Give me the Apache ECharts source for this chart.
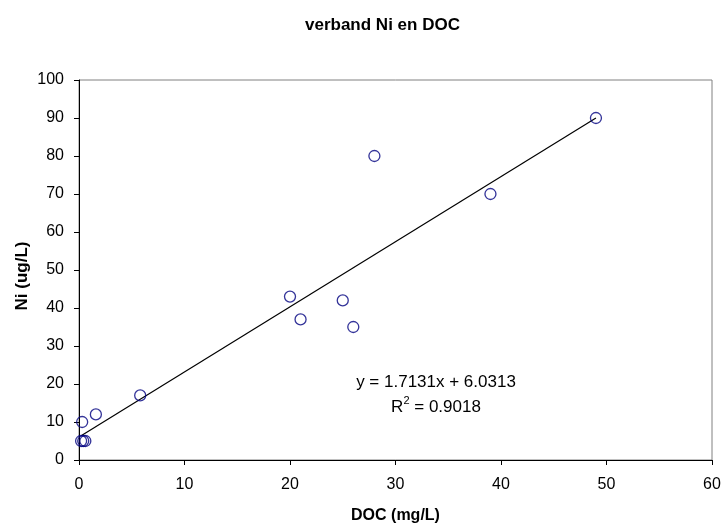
<!DOCTYPE html>
<html>
<head>
<meta charset="utf-8">
<script src="https://cdn.jsdelivr.net/npm/echarts@6/dist/echarts.min.js"></script>
<style>html,body{margin:0;padding:0;background:#fff}#c{width:722px;height:527px}</style>
</head>
<body>
<div id="c"></div>
<script>
var docValues = [49, 39, 28, 20, 21, 25, 26, 5.8, 1.6, 0.3, 0.2, 0.4, 0.6];
var niValues  = [90, 70, 80, 43, 37, 42, 35, 17, 12, 10, 5, 5, 5];
var slope = 1.7131;
var intercept = 6.0313;
var r2 = 0.9018;
var xTicks = [0, 10, 20, 30, 40, 50, 60];
var yTicks = [0, 10, 20, 30, 40, 50, 60, 70, 80, 90, 100];

var pts = docValues.map(function (x, i) { return [x, niValues[i]]; });
var xmin = Math.min.apply(null, docValues), xmax = Math.max.apply(null, docValues);
var trend = [[xmin, slope * xmin + intercept], [xmax, slope * xmax + intercept]];

var chart = echarts.init(document.getElementById('c'));
var font = 'Arial, "Liberation Sans", sans-serif';
chart.setOption({
  animation: false,
  backgroundColor: '#fff',
  title: {
    text: 'verband Ni en DOC', left: 300, top: 12,
    textStyle: { fontFamily: font, fontSize: 17, fontWeight: 'bold', color: '#000' }
  },
  grid: { left: 79, right: 10, top: 80, bottom: 67, show: true, borderColor: '#808080', borderWidth: 1,
          containLabel: false, outerBoundsMode: 'none' },
  xAxis: {
    type: 'value', min: 0, max: 60, interval: 10,
    name: 'DOC (mg/L)', nameLocation: 'middle', nameGap: 48, nameMoveOverlap: false,
    nameTextStyle: { fontFamily: font, fontSize: 16, fontWeight: 'bold', color: '#000', verticalAlign: 'top' },
    axisLine: { show: true, onZero: false, lineStyle: { color: '#000', width: 1 } },
    axisTick: { show: true, inside: false, length: 5, lineStyle: { color: '#000' } },
    axisLabel: { fontFamily: font, fontSize: 16, color: '#000', margin: 17,
      formatter: function (v) { return xTicks.indexOf(v) >= 0 ? String(v) : ''; } },
    splitLine: { show: false }
  },
  yAxis: {
    type: 'value', min: 0, max: 100, interval: 10,
    name: 'Ni (ug/L)', nameLocation: 'middle', nameGap: 48, nameRotate: 90, nameMoveOverlap: false,
    nameTextStyle: { fontFamily: font, fontSize: 17, fontWeight: 'bold', color: '#000', padding: [0, 12, 0, 0] },
    axisLine: { show: true, onZero: false, lineStyle: { color: '#000', width: 1 } },
    axisTick: { show: true, inside: false, length: 5, lineStyle: { color: '#000' } },
    axisLabel: { fontFamily: font, fontSize: 16, color: '#000', margin: 15,
      formatter: function (v) { return yTicks.indexOf(v) >= 0 ? String(v) : ''; } },
    splitLine: { show: false }
  },
  series: [
    {
      type: 'line', data: trend, symbol: 'none', silent: true,
      lineStyle: { color: '#000', width: 1.2 }, z: 2
    },
    {
      type: 'scatter', data: pts, symbol: 'circle', symbolSize: 11,
      itemStyle: { color: 'rgba(255,255,255,0)', borderColor: '#000080', borderWidth: 1.3 }, z: 3
    }
  ],
  graphic: [
    {
      type: 'text', x: 436, y: 370,
      style: {
        text: '{base|y = 1.7131x + 6.0313}\n{base|R}{sup|2}{base| = ' + r2.toFixed(4) + '}',
        fontFamily: font, fontSize: 17, fill: '#000', align: 'center',
        rich: {
          base: { fontFamily: font, fontSize: 17, color: '#000', lineHeight: 25 },
          sup: { fontFamily: font, fontSize: 11, color: '#000', lineHeight: 25, verticalAlign: 'top', padding: [0, 0, 10, 0] }
        }
      }
    }
  ]
});
</script>
</body>
</html>
